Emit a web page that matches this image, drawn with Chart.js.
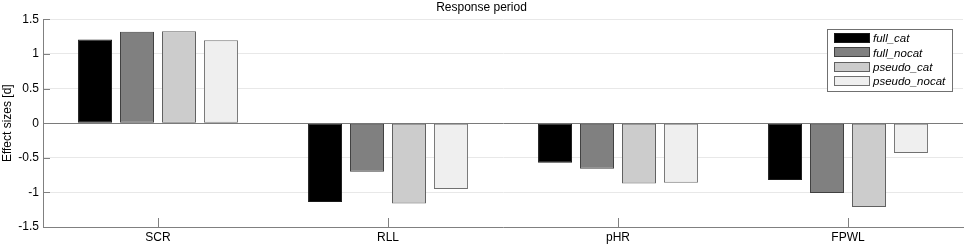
<!DOCTYPE html>
<html>
<head>
<meta charset="utf-8">
<script src="https://cdn.jsdelivr.net/npm/chart.js@4.4.0/dist/chart.umd.min.js"></script>
<style>
  html, body { margin: 0; padding: 0; background: #fff; }
  #wrap { width: 964px; height: 245px; }
</style>
</head>
<body>
<div id="wrap"><canvas id="effectChart" width="964" height="245"></canvas></div>
<script>
// Categories and series (effect sizes)
const categories = ['SCR', 'RLL', 'pHR', 'FPWL'];
const seriesNames = ['full_cat', 'full_nocat', 'pseudo_cat', 'pseudo_nocat'];
const fullCat = [1.21, -1.14, -0.57, -0.82];
const fullNocat = [1.32, -0.70, -0.66, -1.01];
const pseudoCat = [1.33, -1.16, -0.87, -1.21];
const pseudoNocat = [1.20, -0.95, -0.86, -0.43];
const yTickLabels = ['-1.5', '-1', '-0.5', '0', '0.5', '1', '1.5'];

const fills = ['#000000', '#808080', '#cccccc', '#efefef'];
const borders = ['#1a1a1a', '#404040', '#606060', '#707070'];
const FONT = '"Liberation Sans", Arial, sans-serif';

const seriesValues = [fullCat, fullNocat, pseudoCat, pseudoNocat];

// Small inward tick marks like the original plot
const innerTicks = {
  id: 'innerTicks',
  afterDatasetsDraw(chart) {
    const { ctx, chartArea, scales } = chart;
    ctx.save();
    ctx.strokeStyle = '#808080';
    ctx.lineWidth = 1;
    scales.x.ticks.forEach((t, i) => {
      const x = Math.round(scales.x.getPixelForTick(i)) + 0.5;
      ctx.beginPath();
      ctx.moveTo(x, chartArea.bottom);
      ctx.lineTo(x, chartArea.bottom - 9);
      ctx.stroke();
    });
    scales.y.ticks.forEach((t, i) => {
      const y = Math.round(scales.y.getPixelForTick(i)) + 0.5;
      ctx.beginPath();
      ctx.moveTo(chartArea.left, y);
      ctx.lineTo(chartArea.left + 7, y);
      ctx.stroke();
    });
    ctx.restore();
  }
};

// Boxed legend inside the upper right of the plot
const boxLegend = {
  id: 'boxLegend',
  afterDraw(chart) {
    const { ctx } = chart;
    const left = 827, top = 29, w = 125, h = 62;
    ctx.save();
    ctx.fillStyle = '#fff';
    ctx.fillRect(left, top, w, h);
    ctx.strokeStyle = '#707070';
    ctx.lineWidth = 1;
    ctx.strokeRect(left + 0.5, top + 0.5, w, h);
    ctx.font = 'italic 11.5px ' + FONT;
    ctx.textBaseline = 'middle';
    chart.data.datasets.forEach((ds, i) => {
      const cy = top + 9 + i * 14.3;
      ctx.fillStyle = ds.backgroundColor;
      ctx.fillRect(left + 7, Math.round(cy - 5), 36, 10);
      ctx.strokeStyle = ds.borderColor;
      ctx.strokeRect(left + 7.5, Math.round(cy - 5) + 0.5, 35, 9);
      ctx.fillStyle = '#000';
      ctx.fillText(ds.label, left + 46, cy + 1);
    });
    ctx.restore();
  }
};

new Chart(document.getElementById('effectChart'), {
  type: 'bar',
  data: {
    labels: categories,
    datasets: seriesNames.map((name, i) => ({
      label: name,
      data: seriesValues[i],
      backgroundColor: fills[i],
      borderColor: borders[i],
      borderWidth: 1,
      borderSkipped: false,
      categoryPercentage: 0.73,
      barPercentage: 0.81
    }))
  },
  options: {
    responsive: false,
    animation: false,
    layout: { padding: { left: 0, right: 1, top: 0, bottom: 0 } },
    plugins: {
      legend: { display: false },
      tooltip: { enabled: false },
      title: {
        display: true,
        text: 'Response period',
        color: '#000',
        font: { family: FONT, size: 12, weight: 'normal' },
        padding: { top: 0, bottom: 5 }
      }
    },
    scales: {
      x: {
        offset: true,
        grid: { display: false, drawTicks: false },
        border: { display: true, color: '#808080' },
        ticks: { color: '#000', font: { family: FONT, size: 12 }, padding: 3 },
        afterFit(scale) { scale.height = 18; }
      },
      y: {
        min: -1.5,
        max: 1.5,
        ticks: {
          stepSize: 0.5,
          color: '#000',
          font: { family: FONT, size: 12 },
          padding: 4,
          callback: (v, i) => yTickLabels[i]
        },
        grid: {
          drawTicks: false,
          color: ctx => (ctx.tick && ctx.tick.value === 0 ? '#7a7a7a' : '#e8e8e8')
        },
        border: { display: true, color: '#808080' },
        title: {
          display: true,
          text: 'Effect sizes [d]',
          color: '#000',
          font: { family: FONT, size: 12 },
          padding: { top: 0, bottom: 0 }
        },
        afterFit(scale) { scale.width = 43; }
      }
    }
  },
  plugins: [innerTicks, boxLegend]
});
</script>
</body>
</html>
